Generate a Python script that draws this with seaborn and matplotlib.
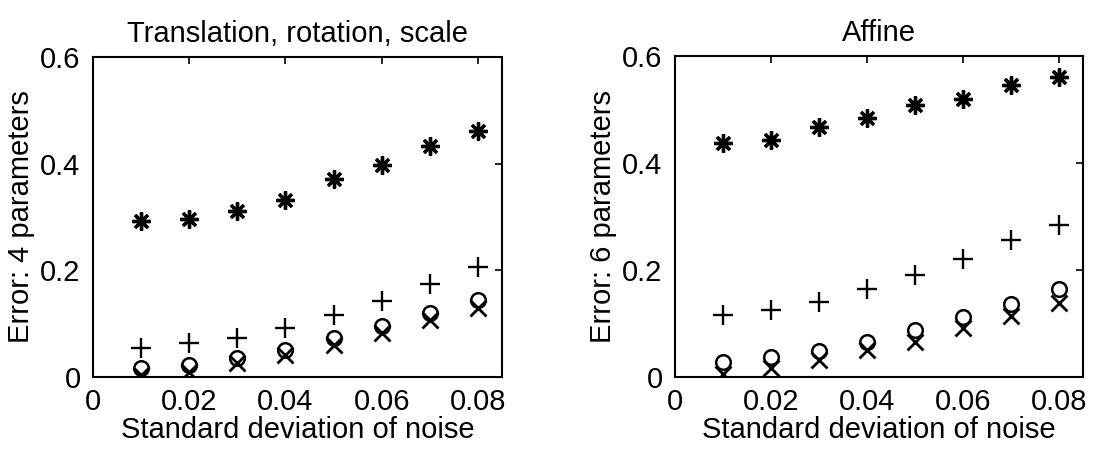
import numpy as np
import pandas as pd
import matplotlib
matplotlib.use("Agg")
import matplotlib.pyplot as plt
import seaborn as sns

noise_sd = [0.01, 0.02, 0.03, 0.04, 0.05, 0.06, 0.07, 0.08]

# Left panel: translation, rotation, scale (4 parameters)
left_star = [0.292, 0.297, 0.311, 0.331, 0.371, 0.397, 0.433, 0.461]
left_plus = [0.054, 0.063, 0.073, 0.092, 0.117, 0.143, 0.175, 0.207]
left_circle = [0.016, 0.023, 0.035, 0.051, 0.073, 0.096, 0.120, 0.145]
left_cross = [0.004, 0.010, 0.026, 0.041, 0.060, 0.082, 0.107, 0.129]

# Right panel: affine (6 parameters)
right_star = [0.438, 0.443, 0.468, 0.485, 0.508, 0.520, 0.545, 0.560]
right_plus = [0.115, 0.125, 0.140, 0.164, 0.190, 0.220, 0.256, 0.285]
right_circle = [0.028, 0.037, 0.049, 0.066, 0.088, 0.113, 0.137, 0.164]
right_cross = [0.005, 0.016, 0.032, 0.051, 0.066, 0.092, 0.114, 0.139]

titles = ["Translation, rotation, scale", "Affine"]
ylabels = ["Error: 4 parameters", "Error: 6 parameters"]
xlabel = "Standard deviation of noise"
xticks = [0, 0.02, 0.04, 0.06, 0.08]
xticklabels = ["0", "0.02", "0.04", "0.06", "0.08"]
yticks = [0, 0.2, 0.4, 0.6]
yticklabels = ["0", "0.2", "0.4", "0.6"]

sns.set_theme(style="white")
plt.rcParams["font.family"] = ["Liberation Sans", "DejaVu Sans"]
plt.rcParams["xtick.direction"] = "in"
plt.rcParams["ytick.direction"] = "in"
plt.rcParams["xtick.top"] = True
plt.rcParams["ytick.right"] = True

fig = plt.figure(figsize=(10.93, 4.49), dpi=100)
ax1 = fig.add_axes([0.0851, 0.1604, 0.3742, 0.7127])
ax2 = fig.add_axes([0.6176, 0.1604, 0.3733, 0.7149])

panels = [
    (ax1, left_star, left_plus, left_circle, left_cross),
    (ax2, right_star, right_plus, right_circle, right_cross),
]

FS = 21
for i, (ax, s_star, s_plus, s_circ, s_cross) in enumerate(panels):
    series = [
        (s_star, (8, 2, 0), 13, 2.4, "none"),
        (s_plus, "+", 14, 1.7, "none"),
        (s_circ, "o", 10.5, 1.8, "none"),
        (s_cross, "x", 11, 2.0, "none"),
    ]
    for vals, mk, ms, mew, mfc in series:
        df = pd.DataFrame({"x": noise_sd, "y": vals})
        sns.lineplot(data=df, x="x", y="y", ax=ax, marker=mk, linestyle="",
                     color="black", markersize=ms, markeredgewidth=mew,
                     markerfacecolor=mfc, markeredgecolor="black")
    ax.set_xlim(0, 0.085)
    ax.set_ylim(0, 0.6)
    ax.set_xticks(xticks)
    ax.set_xticklabels(xticklabels)
    ax.set_yticks(yticks)
    ax.set_yticklabels(yticklabels)
    ax.tick_params(axis="both", which="both", direction="in", length=5,
                   width=1.2, colors="black", labelsize=FS,
                   top=True, right=True)
    ax.tick_params(axis="x", pad=8)
    ax.tick_params(axis="y", pad=9)
    ax.set_title(titles[i], fontsize=FS, color="black", pad=11)
    ax.set_xlabel(xlabel, fontsize=FS, color="black", labelpad=0)
    ax.set_ylabel(ylabels[i], fontsize=FS, color="black", labelpad=4)
    for sp in ax.spines.values():
        sp.set_color("black")
        sp.set_linewidth(1.5)
        sp.set_visible(True)

fig.savefig("out.png", dpi=100, facecolor="white")
